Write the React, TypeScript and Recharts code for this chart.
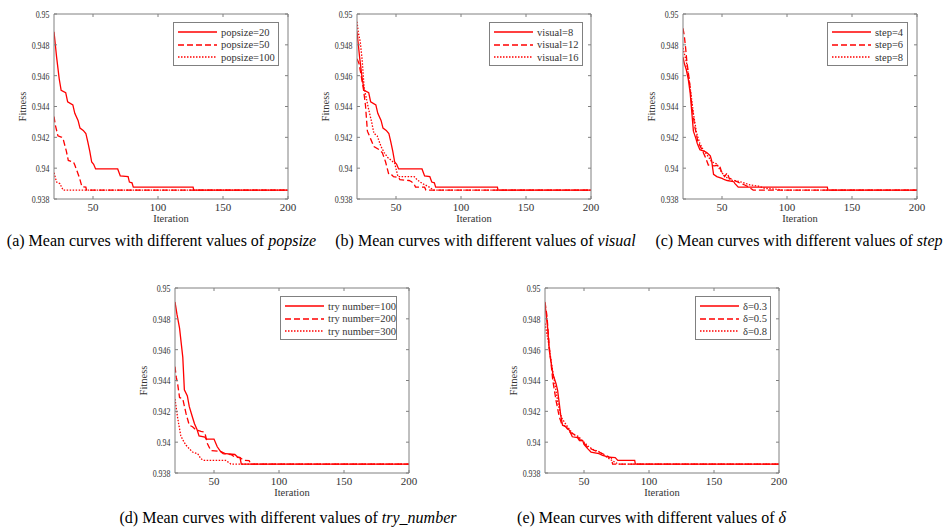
import { LineChart, Line, XAxis, YAxis, Legend } from "recharts";

type Pt = [number, number];

const xTicks = [50, 100, 150, 200];
const yTicks = [0.938, 0.94, 0.942, 0.944, 0.946, 0.948, 0.95];

// (a) popsize
const popsize20: Pt[] = [
  [20, 0.94885], [22, 0.9472], [24, 0.9458], [25.5, 0.94505], [29, 0.9449], [30.5, 0.9443],
  [34.5, 0.9441], [36, 0.94356], [38.5, 0.9431], [40, 0.9426], [42.5, 0.94245], [44.5, 0.94225],
  [46, 0.9417], [47.5, 0.9411], [49, 0.9404], [50.5, 0.94025], [52, 0.93995], [69, 0.93995],
  [71, 0.9395], [77, 0.93945], [78, 0.9391], [80, 0.93905], [81, 0.93877], [127, 0.93877],
  [127.5, 0.93858], [200, 0.93858],
];
const popsize50: Pt[] = [
  [20, 0.94335], [21, 0.9428], [23, 0.9421], [26, 0.942], [27, 0.9419], [29.5, 0.9411], [31, 0.9405],
  [35, 0.9404], [36, 0.9402], [39.5, 0.9394], [41.5, 0.9388], [44.5, 0.93877], [45, 0.93858],
  [200, 0.93858],
];
const popsize100: Pt[] = [
  [20, 0.9397], [21, 0.9394], [22, 0.9391], [24.5, 0.939], [27, 0.93858], [200, 0.93858],
];

// (b) visual
const visual8: Pt[] = [
  [20, 0.94885], [22, 0.9472], [24, 0.9458], [25.5, 0.94505], [29, 0.9449], [30.5, 0.9443],
  [34.5, 0.9441], [36, 0.94356], [38.5, 0.9431], [40, 0.9426], [42.5, 0.94245], [44.5, 0.94225],
  [46, 0.9417], [47.5, 0.9411], [49, 0.9404], [50.5, 0.94025], [52, 0.93995], [70, 0.93995],
  [72, 0.9395], [76, 0.93945], [77.5, 0.9391], [79.5, 0.93905], [80.5, 0.93877], [128, 0.93877],
  [128.5, 0.93858], [200, 0.93858],
];
const visual12: Pt[] = [
  [20, 0.9471], [21.5, 0.9468], [23, 0.9461], [25, 0.9451], [26.5, 0.9441], [28, 0.9424],
  [30.5, 0.9419], [33, 0.9414], [37, 0.9412], [39.5, 0.941], [42, 0.9404], [44.5, 0.93958],
  [47, 0.93955], [48, 0.93945], [52, 0.9394], [53, 0.93925], [60, 0.9392], [62, 0.93912],
  [64, 0.93895], [65, 0.93877], [72, 0.93877], [73, 0.93858], [200, 0.93858],
];
const visual16: Pt[] = [
  [20, 0.9495], [21, 0.9488], [22.5, 0.9482], [24, 0.947], [25.5, 0.9452], [27, 0.9446],
  [29, 0.9438], [31.5, 0.9429], [33, 0.94226], [35.5, 0.9421], [38.5, 0.9414], [41, 0.941],
  [43.5, 0.9407], [46, 0.94053], [49, 0.94032], [51.5, 0.93945], [64, 0.93945], [66.5, 0.93923],
  [70, 0.93902], [75, 0.9388], [79, 0.93858], [200, 0.93858],
];

// (c) step
const step4: Pt[] = [
  [20, 0.9472], [21, 0.9468], [22.5, 0.9464], [24, 0.9458], [25.5, 0.9449], [27, 0.9434],
  [28, 0.9424], [30, 0.9419], [31, 0.9416], [33, 0.9412], [37, 0.94107], [38.5, 0.941],
  [41, 0.9408], [42, 0.9405], [43.5, 0.9396], [46, 0.93945], [50, 0.93934], [52, 0.93925],
  [54, 0.9392], [59, 0.93912], [60, 0.939], [62.5, 0.93877], [131, 0.93877], [131.5, 0.93858],
  [200, 0.93858],
];
const step6: Pt[] = [
  [20, 0.94907], [21, 0.9486], [22, 0.9478], [23, 0.9469], [24, 0.94626], [25, 0.9456],
  [26.5, 0.9443], [29, 0.9427], [31.5, 0.9417], [34, 0.9413], [37, 0.94075], [39.5, 0.9402],
  [44, 0.94015], [48, 0.9402], [49.5, 0.9398], [52, 0.93945], [54, 0.9397], [55.5, 0.93935],
  [59, 0.93923], [64, 0.93902], [67.5, 0.93891], [70, 0.9388], [74, 0.93858], [200, 0.93858],
];
const step8: Pt[] = [
  [20, 0.9478], [22.8, 0.9468], [25.4, 0.9453], [28, 0.94356], [30.5, 0.94226], [33, 0.9416],
  [35.6, 0.94118], [39.5, 0.94075], [42, 0.94042], [46, 0.94027], [48.5, 0.93988], [52.3, 0.93945],
  [57.5, 0.93923], [64, 0.93912], [68, 0.93902], [71.5, 0.93891], [78, 0.93884], [83, 0.93869],
  [93, 0.93862], [96, 0.93858], [200, 0.93858],
];

// (d) try number
const try100: Pt[] = [
  [20, 0.9491], [21.5, 0.9483], [23.5, 0.9474], [26, 0.9455], [27.2, 0.9434], [29.5, 0.943],
  [31, 0.9423], [33.5, 0.9416], [35, 0.9412], [37, 0.9408], [38.5, 0.9404], [43, 0.94033],
  [44, 0.9402], [50, 0.9402], [52.5, 0.9397], [55, 0.9394], [59, 0.93925], [66, 0.9392],
  [68, 0.93905], [70, 0.939], [71, 0.93858], [200, 0.93858],
];
const try200: Pt[] = [
  [20, 0.9449], [21, 0.9442], [22, 0.9438], [23.5, 0.9429], [26, 0.9428], [28.5, 0.94185],
  [31, 0.9411], [33.5, 0.941], [36, 0.9408], [40, 0.9407], [42, 0.94066], [43, 0.9406],
  [45, 0.9399], [47.5, 0.93946], [55, 0.9394], [57, 0.93925], [63, 0.9392], [66, 0.93903],
  [70, 0.939], [73, 0.93882], [77, 0.9388], [78.5, 0.93858], [200, 0.93858],
];
const try300: Pt[] = [
  [20, 0.9428], [21, 0.9422], [22, 0.9416], [23, 0.9411], [24.5, 0.9404], [27, 0.94],
  [28.5, 0.9398], [31, 0.93957], [33.5, 0.93936], [37.5, 0.93925], [40, 0.93892], [42.5, 0.93882],
  [59, 0.93882], [63, 0.93858], [200, 0.93858],
];

// (e) delta
const delta03: Pt[] = [
  [20, 0.949], [21, 0.9482], [22, 0.94745], [23.3, 0.94595], [26, 0.94444], [28.5, 0.9438],
  [29.7, 0.94336], [31, 0.9425], [32, 0.9418], [33.5, 0.9411], [36, 0.941], [38.5, 0.9408],
  [41, 0.94035], [45, 0.9403], [46.5, 0.9401], [49, 0.9401], [50, 0.93985], [52.8, 0.93958],
  [55.4, 0.93936], [61.5, 0.93925], [64.3, 0.93914], [69, 0.93903], [74, 0.939], [76, 0.93882],
  [89, 0.93882], [89.5, 0.93858], [200, 0.93858],
];
const delta05: Pt[] = [
  [20, 0.9491], [21.5, 0.9482], [23.3, 0.9462], [26, 0.944], [28.5, 0.9427], [31, 0.94163],
  [32.8, 0.9412], [36, 0.941], [38.8, 0.94066], [41.3, 0.94055], [44, 0.94044], [47.5, 0.94012],
  [50.3, 0.9399], [52.8, 0.93968], [58, 0.93946], [61.7, 0.93936], [65.6, 0.9392], [69.4, 0.93903],
  [71, 0.939], [72, 0.93858], [200, 0.93858],
];
const delta08: Pt[] = [
  [20, 0.9477], [22.6, 0.9465], [25, 0.9451], [27.7, 0.94373], [30.2, 0.94243], [32.8, 0.94157],
  [35.4, 0.94124], [38, 0.94092], [41.8, 0.9405], [45.6, 0.94038], [49.4, 0.94005], [53.3, 0.93973],
  [57.2, 0.93951], [61, 0.9394], [64.8, 0.93919], [68.6, 0.93897], [72.5, 0.93876], [75, 0.93865],
  [76, 0.93858], [200, 0.93858],
];

const FONT = '"Liberation Serif", "Times New Roman", serif';
const RED = "#ff0000";
const AXIS = "#808080";
const TEXT = "#333333";
const DASHES = ["", "6 3", "1.5 1.5"];

// plot box inside each 300x228 chart
const PL = 54;
const PR = 288;
const PT = 14;
const PB = 199;

const toRows = (pts: Pt[]) => pts.map(([x, y]) => ({ x, y }));
const fmtY = (v: number) => String(Number(v.toFixed(3)));

function BottomTick(props: any) {
  const x = props.payload.coordinate;
  return (
    <g>
      <line x1={x} x2={x} y1={PB} y2={PB - 3} stroke={AXIS} />
      <text x={x} y={210.5} textAnchor="middle" fill={TEXT} fontSize={11} fontFamily={FONT}>
        {props.payload.value}
      </text>
    </g>
  );
}

function TopTick(props: any) {
  const x = props.payload.coordinate;
  return <line x1={x} x2={x} y1={PT} y2={PT + 3} stroke={AXIS} />;
}

function LeftTick(props: any) {
  const y = props.payload.coordinate;
  const tx = 49.5;
  return (
    <g>
      <line x1={PL} x2={PL + 3} y1={y} y2={y} stroke={AXIS} />
      <text
        x={0}
        y={0}
        dy="0.35em"
        textAnchor="end"
        fill={TEXT}
        fontSize={11}
        fontFamily={FONT}
        transform={`translate(${tx},${y}) scale(0.72,1)`}
      >
        {fmtY(props.payload.value)}
      </text>
    </g>
  );
}

function RightTick(props: any) {
  const y = props.payload.coordinate;
  return <line x1={PR} x2={PR - 3} y1={y} y2={y} stroke={AXIS} />;
}

interface Series {
  name: string;
  data: Pt[];
}

interface PanelProps {
  left: number;
  top: number;
  series: Series[];
  legendLeft: number;
  legendWidth: number;
}

function Panel({ left, top, series, legendLeft, legendWidth }: PanelProps) {
  const renderLegend = () => (
    <div
      style={{
        width: legendWidth,
        height: 44,
        boxSizing: "border-box",
        border: `1px solid ${AXIS}`,
        background: "#fff",
        paddingTop: 3,
        paddingLeft: 4,
        fontFamily: FONT,
        fontSize: 10.5,
        color: TEXT,
      }}
    >
      {series.map((s, i) => (
        <div key={s.name} style={{ display: "flex", alignItems: "center", height: 12.5, whiteSpace: "nowrap" }}>
          <svg width={39} height={6} style={{ flex: "none" }}>
            <line x1={0} y1={3} x2={39} y2={3} stroke={RED} strokeWidth={1.4} strokeDasharray={DASHES[i] || undefined} />
          </svg>
          <span style={{ marginLeft: 4 }}>{s.name}</span>
        </div>
      ))}
    </div>
  );

  return (
    <div style={{ position: "absolute", left, top }}>
      <LineChart width={300} height={228} margin={{ top: 13, right: 11, left: 10, bottom: 4 }}>
        <XAxis
          dataKey="x"
          type="number"
          domain={[20, 200]}
          ticks={xTicks}
          allowDataOverflow
          height={25}
          stroke={AXIS}
          tickLine={false}
          tick={<BottomTick />}
          label={{ value: "Iteration", position: "insideBottom", offset: 2, fill: TEXT, fontSize: 10.5, fontFamily: FONT }}
        />
        <XAxis
          xAxisId="top"
          orientation="top"
          dataKey="x"
          type="number"
          domain={[20, 200]}
          ticks={xTicks}
          allowDataOverflow
          height={1}
          stroke={AXIS}
          tickLine={false}
          tick={<TopTick />}
        />
        <YAxis
          type="number"
          domain={[0.938, 0.95]}
          ticks={yTicks}
          allowDataOverflow
          width={44}
          stroke={AXIS}
          tickLine={false}
          tick={<LeftTick />}
          label={{
            value: "Fitness",
            angle: -90,
            position: "insideLeft",
            offset: 12,
            fill: TEXT,
            fontSize: 10.5,
            fontFamily: FONT,
            style: { textAnchor: "middle" },
          }}
        />
        <YAxis
          yAxisId="right"
          orientation="right"
          type="number"
          domain={[0.938, 0.95]}
          ticks={yTicks}
          allowDataOverflow
          width={1}
          stroke={AXIS}
          tickLine={false}
          tick={<RightTick />}
        />
        <Legend
          layout="vertical"
          align="center"
          verticalAlign="middle"
          wrapperStyle={{ top: 22, left: legendLeft, width: legendWidth }}
          content={renderLegend}
        />
        {series.map((s, i) => (
          <Line
            key={s.name}
            name={s.name}
            data={toRows(s.data)}
            dataKey="y"
            type="linear"
            stroke={RED}
            strokeWidth={1.3}
            strokeDasharray={DASHES[i] || undefined}
            dot={false}
            activeDot={false}
            isAnimationActive={false}
          />
        ))}
      </LineChart>
    </div>
  );
}

function Caption({ cx, cy, text, em }: { cx: number; cy: number; text: string; em: string }) {
  return (
    <div
      style={{
        position: "absolute",
        left: cx - 200,
        top: cy - 9,
        width: 400,
        textAlign: "center",
        fontFamily: FONT,
        fontSize: 16,
        lineHeight: "18px",
        color: "#000",
        whiteSpace: "nowrap",
      }}
    >
      {text}
      <i>{em}</i>
    </div>
  );
}

export default function App() {
  return (
    <div style={{ position: "fixed", left: 0, top: 0, width: 951, height: 531, background: "#fff", overflow: "hidden" }}>
      <Panel
        left={0}
        top={0}
        legendLeft={173}
        legendWidth={106}
        series={[
          { name: "popsize=20", data: popsize20 },
          { name: "popsize=50", data: popsize50 },
          { name: "popsize=100", data: popsize100 },
        ]}
      />
      <Panel
        left={303}
        top={0}
        legendLeft={186}
        legendWidth={94}
        series={[
          { name: "visual=8", data: visual8 },
          { name: "visual=12", data: visual12 },
          { name: "visual=16", data: visual16 },
        ]}
      />
      <Panel
        left={629}
        top={0}
        legendLeft={198}
        legendWidth={81}
        series={[
          { name: "step=4", data: step4 },
          { name: "step=6", data: step6 },
          { name: "step=8", data: step8 },
        ]}
      />
      <Panel
        left={121}
        top={274}
        legendLeft={159}
        legendWidth={117}
        series={[
          { name: "try number=100", data: try100 },
          { name: "try number=200", data: try200 },
          { name: "try number=300", data: try300 },
        ]}
      />
      <Panel
        left={491}
        top={274}
        legendLeft={204}
        legendWidth={76}
        series={[
          { name: "δ=0.3", data: delta03 },
          { name: "δ=0.5", data: delta05 },
          { name: "δ=0.8", data: delta08 },
        ]}
      />
      <Caption cx={161.5} cy={241} text="(a) Mean curves with different values of " em="popsize" />
      <Caption cx={485.5} cy={241} text="(b) Mean curves with different values of " em="visual" />
      <Caption cx={799} cy={241} text="(c) Mean curves with different values of " em="step" />
      <Caption cx={288} cy={518} text="(d) Mean curves with different values of " em="try_number" />
      <Caption cx={651.5} cy={518} text="(e) Mean curves with different values of  " em="δ" />
    </div>
  );
}
